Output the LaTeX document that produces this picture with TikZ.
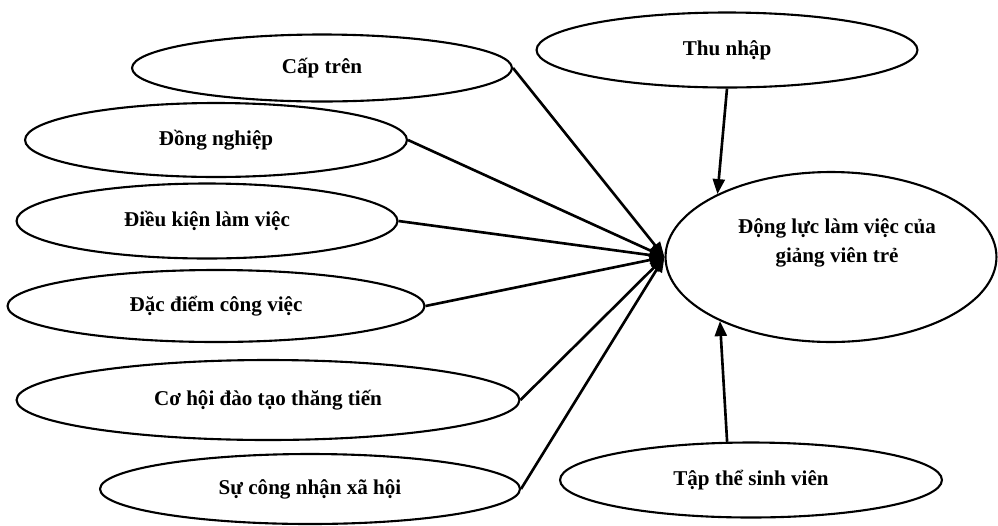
\documentclass[tikz,border=0pt]{standalone}
\usepackage{fontspec}
\setmainfont{Liberation Serif}
\usetikzlibrary{arrows.meta,positioning,shapes.geometric}

\begin{document}
\begin{tikzpicture}[
  x=0.02cm,y=-0.02cm,
  factor/.style={draw,ellipse,line width=1.2pt,inner sep=0pt,
    font=\fontsize{12}{14}\selectfont\bfseries,minimum width=7.62cm,minimum height=1.5cm},
  goal/.style={draw,ellipse,line width=1.2pt,inner sep=0pt,
    minimum width=6.62cm,minimum height=3.4cm},
  link/.style={line width=1.5pt,-{Triangle[length=3mm,width=2.4mm]}}
]
  \useasboundingbox (0,0) rectangle (998,525);
  % Factors
  \node[factor,minimum width=7.6cm,minimum height=1.34cm] (capTren) at (322,68) {Cấp trên};
  \node[factor,minimum width=7.64cm,minimum height=1.48cm] (dongNghiep) at (216,140) {Đồng nghiệp};
  \node[factor] (dieuKien) at (207,221) {Điều kiện làm việc};
  \node[factor,minimum width=8.34cm,minimum height=1.44cm] (dacDiem) at (216,306) {Đặc điểm công việc};
  \node[factor,minimum width=10.06cm,minimum height=1.6cm] (coHoi) at (268,400) {Cơ hội đào tạo thăng tiến};
  \node[factor,minimum width=8.4cm,minimum height=1.4cm] (congNhan) at (310,489) {Sự công nhận xã hội};
  \node[factor] (thuNhap) at (727,50) {Thu nhập};
  \node[factor,minimum width=7.64cm] (tapThe) at (751,480) {Tập thể sinh viên};
  % Outcome
  \node[goal] (dongLuc) at (831,257) {};
  \node[font=\fontsize{12}{16.5}\selectfont\bfseries,align=center] (dongLucText) at (837,243)
    {Động lực làm việc của\\giảng viên trẻ};
  % Links
  \draw[link] (capTren.east) -- (dongLuc.west);
  \draw[link] (dongNghiep.east) -- (dongLuc.west);
  \draw[link] (dieuKien.east) -- (dongLuc.west);
  \draw[link] (dacDiem.east) -- (dongLuc.west);
  \draw[link] (coHoi.east) -- (dongLuc.west);
  \draw[link] (congNhan.east) -- (dongLuc.west);
  \draw[link] (thuNhap.south) -- (dongLuc.151);
  \draw[link] (tapThe.122) -- (dongLuc.210);
\end{tikzpicture}
\end{document}
